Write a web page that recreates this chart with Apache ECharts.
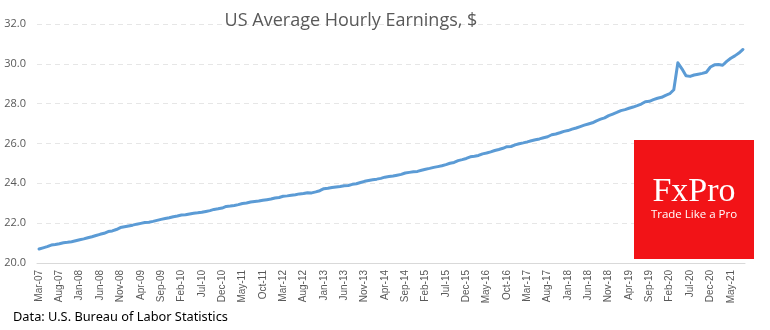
<!DOCTYPE html>
<html>
<head>
<meta charset="utf-8">
<script src="https://cdn.jsdelivr.net/npm/echarts@6/dist/echarts.min.js"></script>
<style>
html,body{margin:0;padding:0;background:#fff;}
#chart{width:770px;height:330px;}
</style>
</head>
<body>
<div id="chart"></div>
<script>
// Monthly categories Mar-07 .. Aug-21
const MONTHS = ['Jan','Feb','Mar','Apr','May','Jun','Jul','Aug','Sep','Oct','Nov','Dec'];
const START_YEAR = 2007, START_MONTH = 2, N_POINTS = 174;
const categories = [];
for (let i = 0; i < N_POINTS; i++) {
  const m = (START_MONTH + i) % 12;
  const y = START_YEAR + Math.floor((START_MONTH + i) / 12);
  categories.push(MONTHS[m] + '-' + String(y % 100).padStart(2, '0'));
}

// Average hourly earnings, $
const earnings2007 = [20.70,20.76,20.82,20.90,20.93,20.97,21.02,21.04,21.07,21.12];
const earnings2008 = [21.17,21.21,21.27,21.32,21.38,21.44,21.49,21.58,21.61,21.68,21.78,21.82];
const earnings2009 = [21.86,21.90,21.95,21.99,22.03,22.05,22.09,22.14,22.19,22.23,22.27,22.32];
const earnings2010 = [22.36,22.41,22.42,22.46,22.50,22.52,22.55,22.59,22.63,22.69,22.72,22.76];
const earnings2011 = [22.84,22.86,22.89,22.93,22.99,23.01,23.06,23.09,23.11,23.15,23.18,23.21];
const earnings2012 = [23.26,23.29,23.35,23.37,23.40,23.43,23.47,23.49,23.53,23.52,23.57,23.63];
const earnings2013 = [23.73,23.75,23.79,23.82,23.84,23.88,23.89,23.95,23.98,24.04,24.10,24.14];
const earnings2014 = [24.18,24.21,24.25,24.31,24.34,24.37,24.41,24.45,24.52,24.55,24.58,24.60];
const earnings2015 = [24.66,24.71,24.75,24.80,24.84,24.88,24.94,25.01,25.05,25.14,25.19,25.25];
const earnings2016 = [25.33,25.36,25.40,25.48,25.52,25.58,25.65,25.70,25.76,25.84,25.85,25.93];
const earnings2017 = [25.99,26.03,26.08,26.14,26.19,26.23,26.29,26.34,26.44,26.48,26.54,26.61];
const earnings2018 = [26.65,26.72,26.78,26.85,26.92,26.98,27.04,27.14,27.22,27.29,27.40,27.48];
const earnings2019 = [27.56,27.65,27.70,27.77,27.83,27.90,27.98,28.10,28.12,28.20,28.27,28.32];
const earnings2020 = [28.42,28.50,28.70,30.05,29.75,29.40,29.37,29.44,29.48,29.52,29.58,29.84];
const earnings2021 = [29.95,29.97,29.93,30.12,30.28,30.40,30.54,30.72];

const earnings = [].concat(earnings2007, earnings2008, earnings2009, earnings2010, earnings2011,
  earnings2012, earnings2013, earnings2014, earnings2015, earnings2016, earnings2017,
  earnings2018, earnings2019, earnings2020, earnings2021);

const yTicks = [20, 22, 24, 26, 28, 30, 32];

const chart = echarts.init(document.getElementById('chart'), null, {renderer: 'canvas'});
chart.setOption({
  animation: false,
  backgroundColor: '#ffffff',
  title: {
    text: 'US Average Hourly Earnings, $',
    left: 346, top: 7, textAlign: 'center',
    textStyle: {fontFamily: 'Open Sans', fontWeight: 'normal', fontSize: 18, color: '#595959'}
  },
  grid: {left: 37, right: 25, top: 24, bottom: 67},
  xAxis: {
    type: 'category',
    data: categories,
    boundaryGap: true,
    axisLine: {lineStyle: {color: '#d9d9d9', width: 1}},
    axisTick: {show: false},
    axisLabel: {
      interval: 4, rotate: 90, margin: 7,
      fontFamily: 'Liberation Sans', fontSize: 10, color: '#595959'
    },
    splitLine: {show: false}
  },
  yAxis: {
    type: 'value',
    min: yTicks[0], max: yTicks[yTicks.length - 1], interval: 2,
    axisLine: {show: false},
    axisTick: {show: false},
    axisLabel: {
      margin: 11, fontFamily: 'Open Sans', fontSize: 11, color: '#595959',
      formatter: v => v.toFixed(1)
    },
    splitLine: {lineStyle: {color: '#e6e6e6', type: [5, 4], width: 1}}
  },
  series: [{
    type: 'line',
    data: earnings,
    showSymbol: false,
    lineStyle: {color: '#5b9bd5', width: 3, join: 'round', cap: 'round'},
    itemStyle: {color: '#5b9bd5'}
  }],
  graphic: [
    {type: 'rect', left: 634, top: 140, shape: {width: 120, height: 119}, style: {fill: '#f21317'}, z: 10},
    {type: 'text', x: 694, y: 192, z: 11, style: {
      text: 'FxPro', fill: '#ffffff', font: '34px "Liberation Serif"', textAlign: 'center', textVerticalAlign: 'middle'}},
    {type: 'text', x: 694, y: 215, z: 11, style: {
      text: 'Trade Like a Pro', fill: '#ffffff', font: '11.5px "Open Sans"', textAlign: 'center', textVerticalAlign: 'middle'}},
    {type: 'text', x: 13, y: 317, z: 11, style: {
      text: 'Data: U.S. Bureau of Labor Statistics', fill: '#000000', font: '12.8px "Noto Sans"', textAlign: 'left', textVerticalAlign: 'middle'}}
  ]
});
</script>
</body>
</html>
